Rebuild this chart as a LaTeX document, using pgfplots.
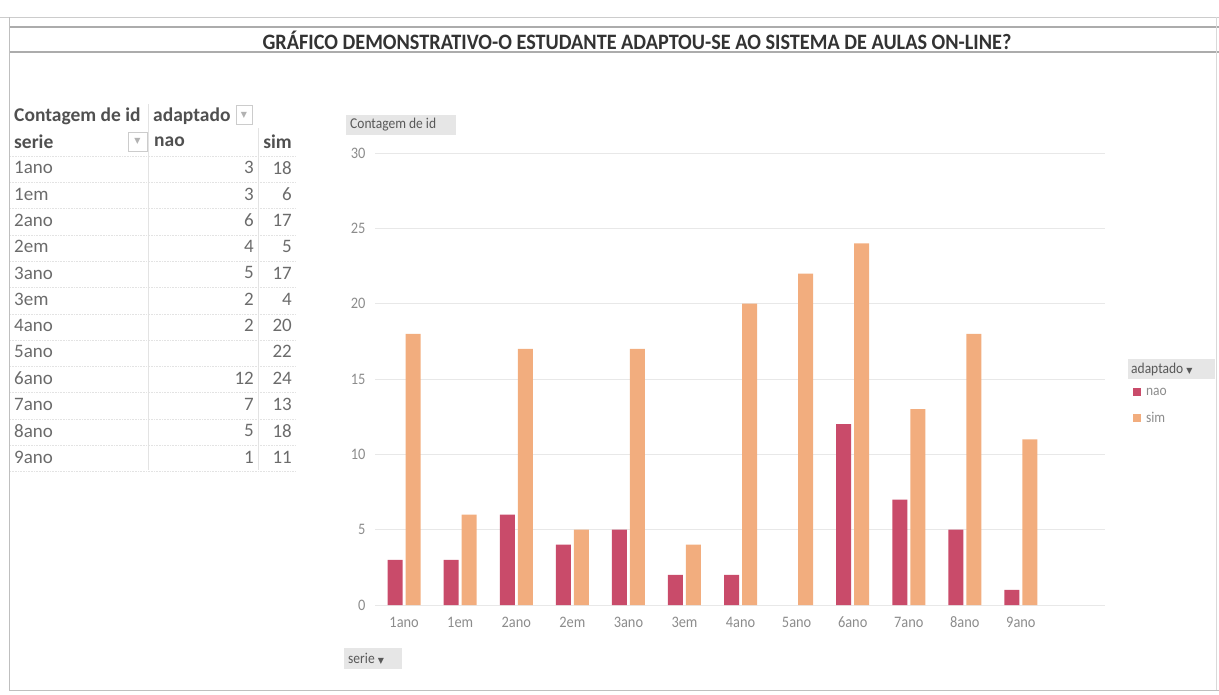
\documentclass[border=0pt]{standalone}
\usepackage{pgfplots}
\pgfplotsset{compat=1.18}
\usepackage{fontspec}
\setmainfont{Carlito}
\newfontfamily\chartfont{Carlito}[FakeStretch=0.9]
\newfontfamily\titlefont{Carlito}[FakeStretch=0.92]
\newfontfamily\symfont{DejaVu Sans}
\definecolor{nao}{HTML}{C94B6A}
\definecolor{sim}{HTML}{F2AD7E}
\definecolor{txt}{HTML}{6B6B6B}
\definecolor{hdr}{HTML}{505050}
\definecolor{tickc}{HTML}{8C8C8C}
\definecolor{btn}{HTML}{E6E6E6}
\newcommand{\tri}{{\symfont\fontsize{8}{8}\selectfont\char"25BC}}
\begin{document}
\begin{tikzpicture}
\begin{axis}[
  at={(375pt,-605pt)}, anchor=south west,
  scale only axis, width=730pt, height=452pt,
  xmin=-0.52, xmax=12.5, ymin=0, ymax=30,
  ybar=3pt, bar width=15pt,
  xtick={0,...,11},
  xticklabels={1ano,1em,2ano,2em,3ano,3em,4ano,5ano,6ano,7ano,8ano,9ano},
  ytick={0,5,...,30},
  /pgf/number format/assume math mode=true,
  ymajorgrids, major grid style={gray!18},
  extra y ticks={0}, extra y tick labels={},
  extra y tick style={grid style={gray!45}},
  axis line style={draw=none},
  tick style={draw=none},
  ticklabel style={font=\chartfont\fontsize{16}{16}\selectfont, text=tickc},
  yticklabel style={xshift=-6pt},
  xticklabel style={yshift=-4pt},
  legend style={at={(1.034,0.49)}, anchor=north west, draw=none, fill=none,
    font=\chartfont\fontsize{15}{15}\selectfont, text=tickc, row sep=12pt,
    /tikz/every odd column/.append style={column sep=3pt}},
  legend cell align=left,
  legend image code/.code={\fill[#1] (0pt,-4pt) rectangle (8pt,4pt);},
]
\addplot[fill=nao, draw=none] coordinates {(0,3) (1,3) (2,6) (3,4) (4,5) (5,2) (6,2) (8,12) (9,7) (10,5) (11,1)};
\addplot[fill=sim, draw=none] coordinates {(0,18) (1,6) (2,17) (3,5) (4,17) (5,4) (6,20) (7,22) (8,24) (9,13) (10,18) (11,11)};
\legend{nao,sim}
\end{axis}
\begin{scope}[x=1pt,y=-1pt]
  % frame
  \draw[gray!40, line width=0.8pt] (0,17) -- (1219,17);
  \draw[gray!65, line width=1.8pt] (10,27) -- (1219,27);
  \draw[gray!65, line width=1.8pt] (10,52) -- (1219,52);
  \draw[gray!50, line width=1pt] (9,17) -- (9,690) -- (1219,690);
  \draw[gray!30, line width=0.6pt] (1216,17) -- (1216,690);
  \node[text=black!80] at (637,40) {\titlefont\bfseries\fontsize{22}{22}\selectfont GRÁFICO DEMONSTRATIVO-O ESTUDANTE ADAPTOU-SE AO SISTEMA DE AULAS ON-LINE?};
  % table
  \draw[gray!22, line width=0.5pt] (148,104) -- (148,470);
  \draw[gray!22, line width=0.5pt] (258,128) -- (258,470);
  \foreach \k in {0,...,12} {
    \draw[gray!22, line width=0.6pt, densely dotted] (10,{156+26.3*\k}) -- (296,{156+26.3*\k});
  }
  \node[anchor=west, text=hdr, inner sep=0pt] at (14,116) {\fontsize{19.5}{19.5}\selectfont\bfseries Contagem de id};
  \node[anchor=west, text=hdr, inner sep=0pt] at (153,116) {\fontsize{19.5}{19.5}\selectfont\bfseries adaptado};
  \draw[gray!40, fill=white] (236,105) rectangle (252,124);
  \node[text=gray!60, inner sep=0pt] at (244,115) {\tri};
  \node[anchor=west, text=hdr, inner sep=0pt] at (14,142) {\fontsize{19.5}{19.5}\selectfont\bfseries serie};
  \draw[gray!40, fill=white] (128,132) rectangle (147,151);
  \node[text=gray!60, inner sep=0pt] at (137.5,141.5) {\tri};
  \node[anchor=west, text=hdr, inner sep=0pt] at (154,142) {\fontsize{19.5}{19.5}\selectfont\bfseries nao};
  \node[anchor=east, text=hdr, inner sep=0pt] at (292,142) {\fontsize{19.5}{19.5}\selectfont\bfseries sim};
  \foreach \n/\a/\b [count=\i from 0] in {1ano/3/18, 1em/3/6, 2ano/6/17, 2em/4/5, 3ano/5/17, 3em/2/4, 4ano/2/20, 5ano/{}/22, 6ano/12/24, 7ano/7/13, 8ano/5/18, 9ano/1/11} {
    \node[anchor=west, text=txt, inner sep=0pt] at (14,{167.7+26.3*\i}) {\fontsize{19}{19}\selectfont\n};
    \node[anchor=east, text=txt, inner sep=0pt] at (254,{167.7+26.3*\i}) {\fontsize{19}{19}\selectfont\a};
    \node[anchor=east, text=txt, inner sep=0pt] at (292,{167.7+26.3*\i}) {\fontsize{19}{19}\selectfont\b};
  }
  % chart buttons
  \fill[btn] (346,115) rectangle (456,135);
  \node[anchor=west, text=black!65, inner sep=0pt] at (350,125) {\chartfont\fontsize{15}{15}\selectfont Contagem de id};
  \fill[btn] (344,648) rectangle (402,669);
  \node[anchor=west, text=black!65, inner sep=0pt] at (348,658.5) {\chartfont\fontsize{15}{15}\selectfont serie \tri};
  \fill[btn] (1128,359) rectangle (1215,379);
  \node[anchor=west, text=black!65, inner sep=0pt] at (1131,369) {\chartfont\fontsize{15}{15}\selectfont adaptado \tri};
\end{scope}
\pgfresetboundingbox
\useasboundingbox (0,0) rectangle (1219pt,-694pt);
\end{tikzpicture}
\end{document}
